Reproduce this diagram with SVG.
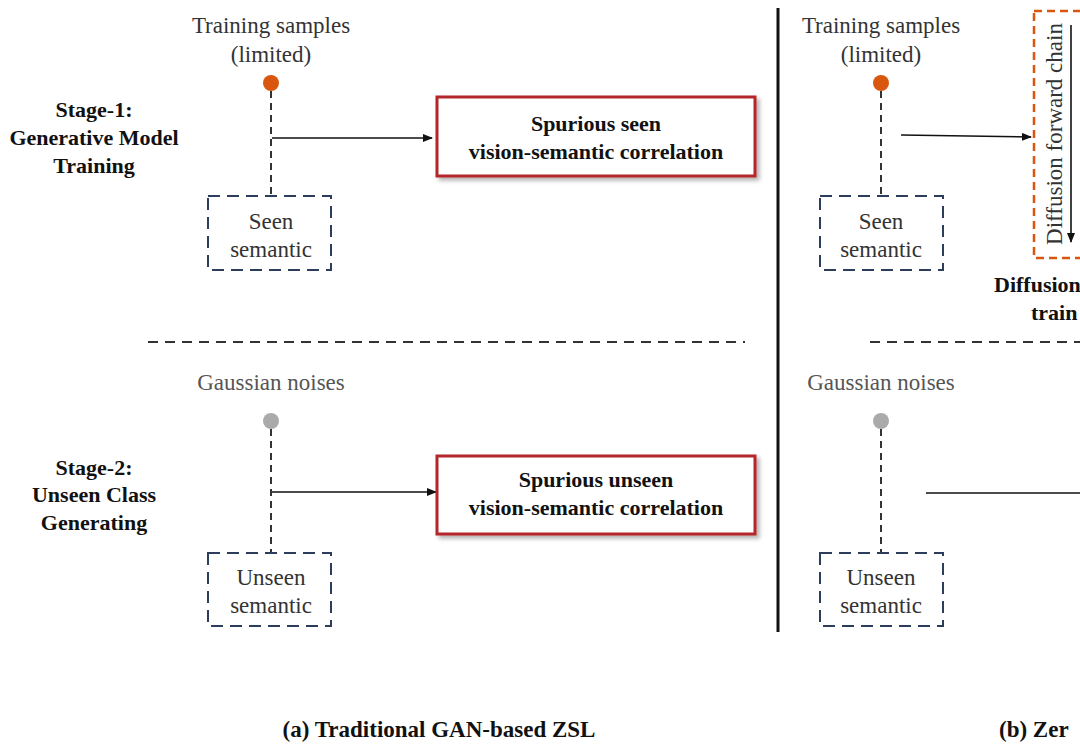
<svg xmlns="http://www.w3.org/2000/svg" width="1080" height="744" viewBox="0 0 1080 744">
<defs>
<marker id="ah" markerWidth="10" markerHeight="8" refX="9" refY="4" orient="auto" markerUnits="userSpaceOnUse"><path d="M0,0 L10,4 L0,8 z" fill="#111"/></marker>
<filter id="sh" x="-5%" y="-10%" width="115%" height="130%"><feDropShadow dx="3" dy="3" stdDeviation="2" flood-color="#000" flood-opacity="0.3"/></filter>
</defs>
<style>
text{font-family:"Liberation Serif","DejaVu Serif",serif;font-size:23px;fill:#333;text-anchor:middle}
.b{font-family:"Liberation Serif","DejaVu Serif",serif;font-weight:700;fill:#111;font-size:22px}
.g{fill:#555}
.sem{fill:#fff;stroke:#2c3e5c;stroke-width:2;stroke-dasharray:12,7}
.red{fill:#fff;stroke:#b3262b;stroke-width:3;filter:url(#sh)}
.dl{stroke:#333;stroke-width:2;stroke-dasharray:7,5;fill:none}
.ln{stroke:#111;stroke-width:1.6;fill:none}
</style>
<rect width="1080" height="744" fill="#fff"/>
<g id="connectors">
<line class="dl" x1="271" y1="91" x2="271" y2="196"/>
<line class="dl" x1="271" y1="429" x2="271" y2="553"/>
<line class="dl" x1="881" y1="91" x2="881" y2="196"/>
<line class="dl" x1="881" y1="429" x2="881" y2="553"/>
<line class="ln" x1="272" y1="138" x2="432" y2="138" marker-end="url(#ah)"/>
<line class="ln" x1="272" y1="492" x2="436" y2="492" marker-end="url(#ah)"/>
<line class="ln" x1="901" y1="135" x2="1031" y2="137" marker-end="url(#ah)"/>
<line class="ln" x1="926" y1="493" x2="1080" y2="493"/>
<line class="ln" x1="1071" y1="25" x2="1071" y2="242" marker-end="url(#ah)"/>
<line x1="148" y1="342" x2="745" y2="342" stroke="#333" stroke-width="2" stroke-dasharray="10,7"/>
<line x1="870" y1="342" x2="1080" y2="342" stroke="#333" stroke-width="2" stroke-dasharray="10,7"/>
<line x1="778" y1="8" x2="778" y2="632" stroke="#111" stroke-width="3"/>
</g>
<g id="stage1"><text class="b" x="94" y="117">Stage-1:</text><text class="b" x="94" y="145">Generative Model</text><text class="b" x="94" y="173">Training</text></g>
<g id="stage2"><text class="b" x="94" y="475">Stage-2:</text><text class="b" x="94" y="502">Unseen Class</text><text class="b" x="94" y="530">Generating</text></g>
<g id="train-a"><text x="271" y="33">Training samples</text><text x="271" y="62">(limited)</text><circle cx="271" cy="83" r="8" fill="#d9560f"/></g>
<g id="seen-a"><rect class="sem" x="208" y="196" width="123" height="74"/><text x="271" y="229">Seen</text><text x="271" y="257">semantic</text></g>
<g id="spur-seen"><rect class="red" x="437" y="97" width="318" height="79"/><text class="b" x="596" y="131">Spurious seen</text><text class="b" x="596" y="159">vision-semantic correlation</text></g>
<g id="noise-a"><text class="g" x="271" y="390">Gaussian noises</text><circle cx="271" cy="421" r="8" fill="#aaa"/></g>
<g id="unseen-a"><rect class="sem" x="208" y="553" width="123" height="73"/><text x="271" y="585">Unseen</text><text x="271" y="613">semantic</text></g>
<g id="spur-unseen"><rect class="red" x="437" y="456" width="318" height="78"/><text class="b" x="596" y="487">Spurious unseen</text><text class="b" x="596" y="515">vision-semantic correlation</text></g>
<g id="train-b"><text x="881" y="33">Training samples</text><text x="881" y="62">(limited)</text><circle cx="881" cy="83" r="8" fill="#d9560f"/></g>
<g id="seen-b"><rect class="sem" x="820" y="196" width="123" height="74"/><text x="881" y="229">Seen</text><text x="881" y="257">semantic</text></g>
<g id="noise-b"><text class="g" x="881" y="390">Gaussian noises</text><circle cx="881" cy="421" r="8" fill="#aaa"/></g>
<g id="unseen-b"><rect class="sem" x="820" y="553" width="123" height="73"/><text x="881" y="585">Unseen</text><text x="881" y="613">semantic</text></g>
<g id="diffusion"><rect x="1034" y="11" width="70" height="247" fill="none" stroke="#d9560f" stroke-width="2.5" stroke-dasharray="8,5"/>
<text x="0" y="0" transform="translate(1062,134) rotate(-90)">Diffusion forward chain</text>
<text class="b" x="994" y="292" style="text-anchor:start">Diffusion</text><text class="b" x="1031" y="320" style="text-anchor:start">train</text></g>
<text class="b" x="439" y="737" style="font-size:23px">(a) Traditional GAN-based ZSL</text>
<text class="b" x="999" y="737" style="font-size:23px;text-anchor:start">(b) Zer</text>
</svg>
